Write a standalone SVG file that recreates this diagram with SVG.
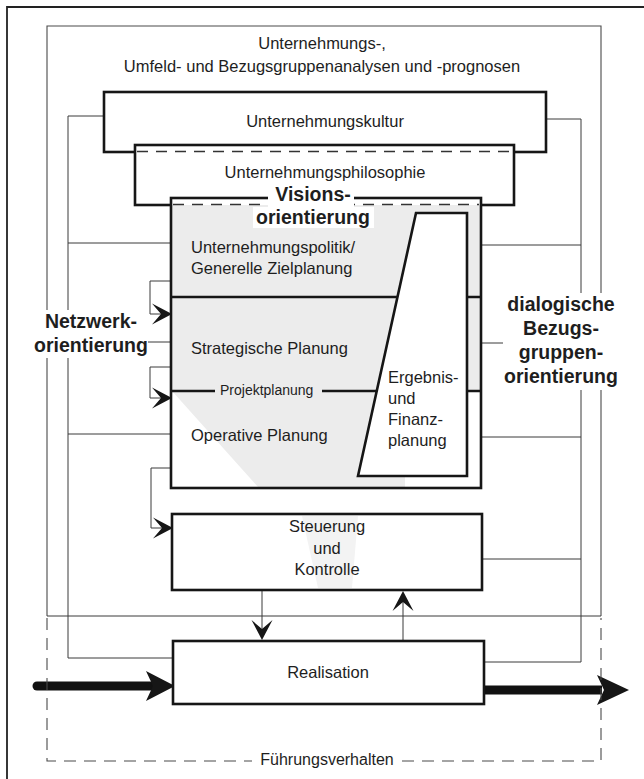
<svg xmlns="http://www.w3.org/2000/svg" xmlns:xlink="http://www.w3.org/1999/xlink" width="644" height="779" viewBox="0 0 644 779">
<style>
  text { font-family: "Liberation Sans", Arial, Helvetica, sans-serif; fill: #1e1e1e; }
  .lbl { font-size: 16.5px; }
  .small { font-size: 14px; }
  .bold { font-size: 19.5px; font-weight: bold; }
  .mid { text-anchor: middle; }
  .thick { stroke: #161616; stroke-width: 2.6; fill: none; }
  .box { stroke: #161616; stroke-width: 2.6; fill: #ffffff; }
  .thin { stroke: #3a3a3a; stroke-width: 1; fill: none; }
  .frame { stroke: #4a4a4a; stroke-width: 1.1; fill: none; }
  .dash { stroke: #333; stroke-width: 1.3; stroke-dasharray: 11 8; fill: none; }
  .fdash { stroke: #4a4a4a; stroke-width: 1.1; stroke-dasharray: 12 8; fill: none; }
  .stip { fill: #ececec; stroke: none; }
  .bg { fill: #ffffff; stroke: none; }
  .head { fill: #161616; stroke: none; }
</style>
<defs>
  <path id="chev" d="M0,0 L-20,-10.5 L-11,0 L-20,10.5 Z"/>
</defs>

<rect x="0" y="0" width="644" height="779" fill="#ffffff"/>

<!-- outer frame -->
<g id="outer-frame">
  <path d="M7,779 L7,7 L644,7" stroke="#222" stroke-width="1.8" fill="none"/>
</g>

<!-- analysis frame -->
<g id="analysen">
  <path class="frame" d="M47,616 L47,26 L601,26 L601,616"/>
  <text class="lbl mid" x="322" y="49">Unternehmungs-,</text>
  <text class="lbl mid" x="322" y="72">Umfeld- und Bezugsgruppenanalysen und -prognosen</text>
</g>

<!-- connectors -->
<g id="connectors">
  <!-- left network bus -->
  <path class="thin" d="M104,116 L68,116 L68,658 L173,658"/>
  <path class="thin" d="M68,243 L171,243"/>
  <path class="thin" d="M68,342 L171,342"/>
  <path class="thin" d="M68,434 L172,434"/>
  <!-- right dialog bus -->
  <path class="thin" d="M546,119 L581,119 L581,662 L484,662"/>
  <path class="thin" d="M481,245 L581,245"/>
  <path class="thin" d="M481,343 L581,343"/>
  <path class="thin" d="M481,437 L581,437"/>
  <path class="thin" d="M482,559 L581,559"/>
  <!-- horizontal across -->
  <path class="thin" d="M47,616 L601,616"/>
  <!-- feedback brackets -->
  <path class="thin" d="M171,281 L150,281 L150,314 L168,314"/>
  <path class="thin" d="M171,367 L150,367 L150,398 L168,398"/>
  <path class="thin" d="M172,468 L151,468 L151,528 L169,528"/>
  <use href="#chev" class="head" transform="translate(172,314)"/>
  <use href="#chev" class="head" transform="translate(172,398)"/>
  <use href="#chev" class="head" transform="translate(173,528)"/>
  <!-- steuerung <-> realisation -->
  <path class="thin" d="M262,590 L262,636"/>
  <use href="#chev" class="head" transform="translate(262,640) rotate(90)"/>
  <path class="thin" d="M403,641 L403,596"/>
  <use href="#chev" class="head" transform="translate(403,591) rotate(-90)"/>
  <!-- main flow arrows -->
  <path d="M37,686 L152,686" stroke="#111" stroke-width="9" stroke-linecap="round" fill="none"/>
  <path class="head" d="M175,686 L146,671 L153,686 L146,701 Z"/>
  <path d="M484,690 L602,690" stroke="#111" stroke-width="9" fill="none"/>
  <path class="head" d="M629,690 L597,675 L604,690 L597,705 Z"/>
</g>

<!-- Fuehrungsverhalten frame -->
<g id="fuehrungsverhalten">
  <path class="fdash" d="M47,618 L47,761 L252,761"/>
  <path class="fdash" d="M402,761 L601,761 L601,618"/>
  <text class="lbl mid" x="327" y="765" style="font-size:16px">Führungsverhalten</text>
</g>

<!-- Unternehmungskultur -->
<g id="kultur">
  <rect class="box" x="104" y="92" width="442" height="60"/>
  <text class="lbl mid" x="325" y="127">Unternehmungskultur</text>
</g>

<!-- Unternehmungsphilosophie -->
<g id="philosophie">
  <rect class="box" x="135" y="145" width="379" height="60"/>
  <path class="dash" d="M137,151.5 L512,151.5"/>
  <text class="lbl mid" x="325" y="178">Unternehmungsphilosophie</text>
</g>

<!-- Planning block -->
<g id="planung">
  <rect x="171" y="198" width="310" height="290" fill="#ffffff" stroke="none"/>
  <rect class="stip" x="172" y="205" width="308" height="186"/>
  <path class="stip" d="M172,391 L377,391 L358,476 L405,476 L405,487 L258,487 Z"/>
  <path class="dash" d="M173,204.5 L479,204.5"/>
  <rect class="thick" x="171" y="198" width="310" height="290"/>
  <!-- dividers -->
  <path class="thick" d="M171,297 L398,297 M467,297 L481,297"/>
  <path class="thick" d="M171,391 L215,391 M322,391 L378,391 M467,391 L481,391"/>
  <text class="small" x="220" y="395">Projektplanung</text>
  <text class="lbl" x="191" y="253">Unternehmungspolitik/</text>
  <text class="lbl" x="191" y="274">Generelle Zielplanung</text>
  <text class="lbl" x="191" y="354">Strategische Planung</text>
  <text class="lbl" x="191" y="441">Operative Planung</text>
</g>

<!-- Ergebnis- und Finanzplanung -->
<g id="finanzplanung">
  <path class="box" d="M416,213 L467,213 L467,476 L358,476 Z"/>
  <text class="lbl" x="388" y="383">Ergebnis-</text>
  <text class="lbl" x="388" y="404">und</text>
  <text class="lbl" x="388" y="425">Finanz-</text>
  <text class="lbl" x="388" y="446">planung</text>
</g>

<!-- Visionsorientierung -->
<g id="visionsorientierung">
  <rect class="bg" x="268" y="185" width="86" height="22"/>
  <rect class="bg" x="253" y="207" width="121" height="21"/>
  <text class="bold mid" x="313" y="201">Visions-</text>
  <text class="bold mid" x="313" y="224">orientierung</text>
</g>

<!-- Netzwerkorientierung -->
<g id="netzwerkorientierung">
  <rect class="bg" x="33" y="310" width="115" height="48"/>
  <text class="bold mid" x="91" y="328">Netzwerk-</text>
  <text class="bold mid" x="91" y="352">orientierung</text>
</g>

<!-- dialogische Bezugsgruppenorientierung -->
<g id="bezugsgruppenorientierung">
  <rect class="bg" x="503" y="293" width="118" height="97"/>
  <text class="bold mid" x="561" y="311">dialogische</text>
  <text class="bold mid" x="561" y="335">Bezugs-</text>
  <text class="bold mid" x="561" y="359">gruppen-</text>
  <text class="bold mid" x="561" y="383">orientierung</text>
</g>

<!-- Steuerung und Kontrolle -->
<g id="steuerung">
  <rect class="box" x="172" y="514" width="310" height="76"/>
  <path d="M302,516 L358,516 L352,588 L318,588 Z" fill="#f3f3f3"/>
  <text class="lbl mid" x="327" y="532">Steuerung</text>
  <text class="lbl mid" x="327" y="554">und</text>
  <text class="lbl mid" x="327" y="575">Kontrolle</text>
</g>

<!-- Realisation -->
<g id="realisation">
  <rect class="box" x="173" y="641" width="311" height="63"/>
  <text class="lbl mid" x="328" y="678">Realisation</text>
</g>
</svg>
